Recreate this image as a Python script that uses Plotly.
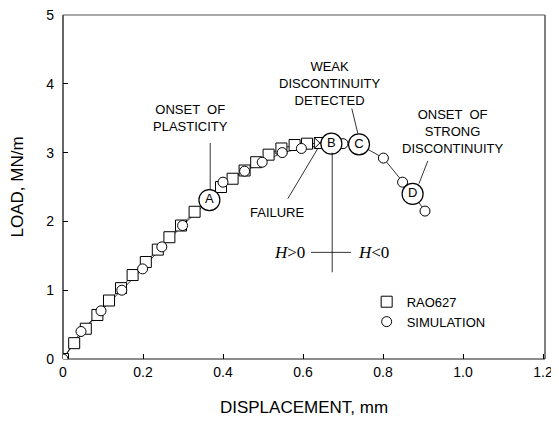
import plotly.graph_objects as go

# ---- data ----
rao_x = [0.0, 0.028, 0.057, 0.086, 0.115, 0.145, 0.174, 0.207, 0.237, 0.266, 0.295,
         0.329, 0.362, 0.395, 0.424, 0.454, 0.483, 0.514, 0.546, 0.579, 0.610, 0.642]
rao_y = [0.0, 0.23, 0.44, 0.64, 0.85, 1.03, 1.22, 1.41, 1.59, 1.77, 1.94,
         2.14, 2.32, 2.50, 2.62, 2.74, 2.86, 2.97, 3.06, 3.11, 3.13, 3.14]

sim_x = [0.0, 0.045, 0.095, 0.147, 0.199, 0.247, 0.299, 0.366, 0.400, 0.454, 0.498,
         0.548, 0.596, 0.671, 0.700, 0.740, 0.801, 0.849, 0.874, 0.905]
sim_y = [0.0, 0.40, 0.70, 1.00, 1.31, 1.63, 1.94, 2.31, 2.57, 2.73, 2.86,
         3.00, 3.06, 3.13, 3.13, 3.12, 2.92, 2.57, 2.40, 2.15]

key_labels = ["A", "B", "C", "D"]
key_x = [0.366, 0.671, 0.740, 0.874]
key_y = [2.31, 3.13, 3.12, 2.40]

x_ticks = [0, 0.2, 0.4, 0.6, 0.8, 1.0, 1.2]
x_tick_text = ["0", "0.2", "0.4", "0.6", "0.8", "1.0", "1.2"]
y_ticks = [0, 1, 2, 3, 4, 5]

FONT = "Liberation Sans, Arial, sans-serif"
SERIF = "Liberation Serif, Times New Roman, serif"

fig = go.Figure()

# connecting lines
fig.add_trace(go.Scatter(x=rao_x, y=rao_y, mode="lines",
                         line=dict(color="black", width=0.8),
                         showlegend=False, hoverinfo="skip"))
fig.add_trace(go.Scatter(x=sim_x, y=sim_y, mode="lines",
                         line=dict(color="black", width=0.8),
                         showlegend=False, hoverinfo="skip"))

rao_symbols = ["square"] * (len(rao_x) - 1) + ["square-x"]
fig.add_trace(go.Scatter(x=rao_x, y=rao_y, mode="markers", name="RAO627",
                         marker=dict(symbol=rao_symbols, size=11, color="white",
                                     line=dict(color="black", width=1))))
fig.add_trace(go.Scatter(x=sim_x, y=sim_y, mode="markers", name="SIMULATION",
                         marker=dict(symbol="circle", size=10, color="white",
                                     line=dict(color="black", width=1))))
fig.add_trace(go.Scatter(x=key_x, y=key_y, mode="markers+text", text=key_labels,
                         textposition="middle center",
                         textfont=dict(family=FONT, size=13, color="black"),
                         marker=dict(symbol="circle", size=21, color="white",
                                     line=dict(color="black", width=1.2)),
                         showlegend=False))

ann_font = dict(family=FONT, size=13, color="black")
annotations = [
    dict(x=0.319, y=3.51, text="ONSET  OF<br>PLASTICITY"),
    dict(x=0.667, y=4.0, text="WEAK<br>DISCONTINUITY<br>DETECTED"),
    dict(x=0.973, y=3.30, text="ONSET  OF<br>STRONG<br>DISCONTINUITY"),
    dict(x=0.537, y=2.13, text="FAILURE"),
    dict(x=0.567, y=1.55, text="<i>H</i>>0", font=dict(family=SERIF, size=17, color="black")),
    dict(x=0.775, y=1.55, text="<i>H</i><0", font=dict(family=SERIF, size=17, color="black")),
]
for a in annotations:
    a.setdefault("font", ann_font)
    fig.add_annotation(xref="x", yref="y", showarrow=False, align="center", **a)

seg_lines = [
    (0.368, 3.14, 0.368, 2.46),
    (0.722, 3.64, 0.737, 3.28),
    (0.912, 2.88, 0.890, 2.55),
    (0.562, 2.33, 0.637, 3.06),
    (0.673, 3.00, 0.673, 1.26),
    (0.620, 1.55, 0.720, 1.55),
]
for x0, y0, x1, y1 in seg_lines:
    fig.add_shape(type="line", xref="x", yref="y", x0=x0, y0=y0, x1=x1, y1=y1,
                  line=dict(color="black", width=0.8))

# frame
frame = [
    (0, 0, 0, 1, "black", 1.2),      # left
    (0, 0, 1, 0, "#666666", 1.5),    # bottom
    (1, 0, 1, 1, "black", 1),        # right
    (0, 1, 1, 1, "#555555", 1),      # top
]
for x0, y0, x1, y1, c, w in frame:
    fig.add_shape(type="line", xref="paper", yref="paper", x0=x0, y0=y0, x1=x1, y1=y1,
                  line=dict(color=c, width=w), layer="below")

# the page body has an 8px default margin, so the figure is sized to fit the window
fig.update_layout(
    width=551, height=418,
    margin=dict(l=55, r=14, t=7, b=67, autoexpand=False),
    paper_bgcolor="white", plot_bgcolor="white",
    font=dict(family=FONT, size=14, color="black"),
    showlegend=True,
    legend=dict(x=0.63, y=0.21, xanchor="left", yanchor="top",
                bgcolor="rgba(0,0,0,0)", font=dict(family=FONT, size=13),
                itemwidth=30, tracegroupgap=0),
)
fig.update_xaxes(range=[0, 1.205], tickvals=x_ticks, ticktext=x_tick_text,
                 ticks="inside", ticklen=5, tickcolor="black",
                 showline=False, automargin=False, ticklabeloverflow="allow",
                 showgrid=False, zeroline=False, ticklabelstandoff=3,
                 title=dict(text="DISPLACEMENT, mm", font=dict(family=FONT, size=17), standoff=22))
fig.update_yaxes(range=[0, 5], tickvals=y_ticks,
                 ticks="inside", ticklen=5, tickcolor="black",
                 showline=False, automargin=False, ticklabeloverflow="allow",
                 showgrid=False, zeroline=False, ticklabelstandoff=8,
                 title=dict(text="LOAD, MN/m", font=dict(family=FONT, size=17), standoff=18))

fig.write_html("out.html")
